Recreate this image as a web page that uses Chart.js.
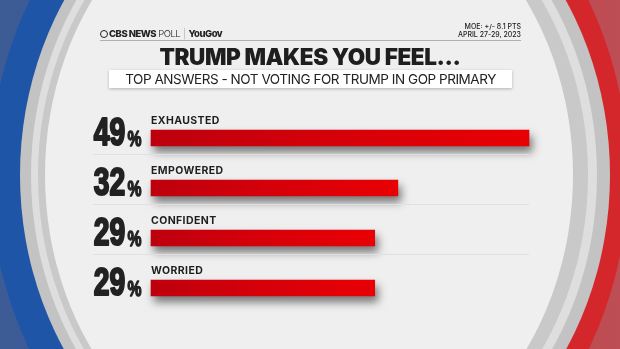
<!DOCTYPE html>
<html>
<head>
<meta charset="utf-8">
<script src="https://cdn.jsdelivr.net/npm/chart.js@4.4.1/dist/chart.umd.min.js"></script>
<style>
  html, body { margin: 0; padding: 0; }
  body { width: 620px; height: 349px; overflow: hidden; position: relative;
    background: linear-gradient(to right, #3d5c96 0%, #2f5499 48%, #c2353c 52%, #bd4e55 100%);
    font-family: "Inter", "Open Sans", sans-serif; }
  .ell { position: absolute; border-radius: 50%; }
  #ringColor { left: -10px; top: -187px; width: 638px; height: 724px;
    background: linear-gradient(to right, #1f55a6 0%, #1f55a6 50%, #d4272c 50%, #d4272c 100%); }
  #ringGray1 { left: 20px; top: -157px; width: 590px; height: 664px; background: #c3c3c3; }
  #ringGray2 { left: 31px; top: -147px; width: 566px; height: 644px; background: #dedede; }
  #ringGray3 { left: 38px; top: -140px; width: 550px; height: 630px; background: #c9c9c9; }
  #panel { left: 45px; top: -132px; width: 528px; height: 614px; background: #efefef; }
  canvas { position: absolute; left: 0; top: 0; }
  .hdr { position: absolute; color: #222; white-space: nowrap; }
  #brand { left: 100px; top: 28px; font-size: 9.5px; letter-spacing: -0.5px; }
  #brand b { font-weight: 800; }
  #brand .poll { font-weight: 300; }
  #brand .sep { color: #aaa; font-weight: 300; margin: 0 3px; }
  #brand .eye { display: inline-block; width: 8px; height: 8px; border-radius: 50%;
    border: 1.5px solid #222; box-sizing: border-box; vertical-align: -1px; margin-right: 1px; }
  #moe { right: 99px; top: 23px; font-size: 7px; line-height: 7.5px; text-align: right; font-weight: 500; }
  #rule { position: absolute; left: 100px; top: 40px; width: 421px; height: 1px; background: #b0b0b0; }
  #title { left: 0; width: 620px; top: 43px; text-align: center; font-size: 22.5px; font-weight: 900;
    letter-spacing: -0.4px; color: #1e1e1e; }
  #subbox { position: absolute; left: 109px; top: 70px; width: 403px; height: 18px; background: #fff;
    box-shadow: 0 1px 3px rgba(0,0,0,0.25); }
  #sub { left: 109px; width: 403px; top: 70px; line-height: 18px; text-align: center; font-size: 13.5px;
    font-weight: 400; color: #222; letter-spacing: -0.45px; }
</style>
</head>
<body>
<div class="ell" id="ringColor"></div>
<div class="ell" id="ringGray1"></div>
<div class="ell" id="ringGray2"></div>
<div class="ell" id="ringGray3"></div>
<div class="ell" id="panel"></div>
<canvas id="chart" width="620" height="349"></canvas>
<div class="hdr" id="brand"><span class="eye"></span><b>CBS NEWS</b> <span class="poll">POLL</span><span class="sep">|</span><b>YouGov</b></div>
<div class="hdr" id="moe">MOE: +/- 8.1 PTS<br>APRIL 27-29, 2023</div>
<div id="rule"></div>
<div class="hdr" id="title">TRUMP MAKES YOU FEEL...</div>
<div id="subbox"></div>
<div class="hdr" id="sub">TOP ANSWERS - NOT VOTING FOR TRUMP IN GOP PRIMARY</div>
<script>
const categories = ["EXHAUSTED", "EMPOWERED", "CONFIDENT", "WORRIED"];
const values = [49, 32, 29, 29];

function barGradient(context) {
  const chart = context.chart;
  const x = chart.scales.x;
  if (!x || !chart.chartArea) return "#d90008";
  const x0 = x.getPixelForValue(0);
  const x1 = x.getPixelForValue(context.raw);
  const g = chart.ctx.createLinearGradient(x0, 0, x1, 0);
  g.addColorStop(0, "#bd000e");
  g.addColorStop(0.45, "#d4000a");
  g.addColorStop(1, "#e80004");
  return g;
}

const shadowPlugin = {
  id: "barShadow",
  beforeDatasetDraw(chart) {
    const ctx = chart.ctx;
    ctx.save();
    ctx.shadowColor = "rgba(0,0,0,0.5)";
    ctx.shadowBlur = 8;
    ctx.shadowOffsetX = 3;
    ctx.shadowOffsetY = 6;
  },
  afterDatasetDraw(chart) {
    chart.ctx.restore();
  }
};

// draw heavy condensed text squeezed into a box of given width and cap height
function fitText(ctx, txt, font, x, baseline, w, h, align, weight) {
  ctx.save();
  ctx.font = font;
  const m = ctx.measureText(txt);
  const th = m.actualBoundingBoxAscent || 1;
  const sx = (w - weight) / m.width;
  const sy = (h - weight) / th;
  ctx.translate(x - (align === "right" ? weight / 2 : -weight / 2), baseline - weight / 2);
  ctx.scale(sx, sy);
  ctx.textAlign = align;
  ctx.textBaseline = "alphabetic";
  ctx.lineJoin = "round";
  ctx.lineWidth = weight / sx;
  ctx.strokeStyle = ctx.fillStyle;
  ctx.fillText(txt, 0, 0);
  ctx.strokeText(txt, 0, 0);
  ctx.restore();
}

const labelPlugin = {
  id: "labels",
  afterDraw(chart) {
    const ctx = chart.ctx;
    const x = chart.scales.x;
    const y = chart.scales.y;
    const x0 = x.getPixelForValue(0);
    ctx.save();
    // separators
    ctx.fillStyle = "#e0e0e0";
    for (let i = 0; i < categories.length - 1; i++) {
      const yc = y.getPixelForValue(i);
      ctx.fillRect(93, Math.round(yc + 16), x.getPixelForValue(values[0]) - 93, 1);
    }
    const numFont = "bold 40px 'Liberation Sans', Arial, sans-serif";
    categories.forEach((cat, i) => {
      const yc = y.getPixelForValue(i);
      // category name
      ctx.fillStyle = "#1e1e1e";
      ctx.font = "700 10.5px Inter, 'Open Sans', sans-serif";
      ctx.textAlign = "left";
      ctx.textBaseline = "alphabetic";
      if ("letterSpacing" in ctx) ctx.letterSpacing = "0.4px";
      ctx.fillText(cat, x0, yc - 14);
      if ("letterSpacing" in ctx) ctx.letterSpacing = "0px";
      // big number + small percent sign
      ctx.fillStyle = "#222";
      fitText(ctx, String(values[i]), numFont, 126, yc + 8, 33, 29, "right", 1.6);
      fitText(ctx, "%", "bold 20px 'Liberation Sans', Arial, sans-serif", 127, yc + 8, 15, 16, "left", 1);
    });
    ctx.restore();
  }
};

new Chart(document.getElementById("chart"), {
  type: "bar",
  data: {
    labels: categories,
    datasets: [{
      data: values,
      backgroundColor: barGradient,
      borderWidth: 0,
      barThickness: 16,
      clip: false
    }]
  },
  options: {
    indexAxis: "y",
    responsive: false,
    animation: false,
    layout: { padding: { left: 151, right: 91, top: 113, bottom: 36 } },
    scales: {
      x: { display: false, min: 0, max: 49 },
      y: { display: false }
    },
    plugins: { legend: { display: false }, tooltip: { enabled: false } }
  },
  plugins: [shadowPlugin, labelPlugin]
});
</script>
</body>
</html>
